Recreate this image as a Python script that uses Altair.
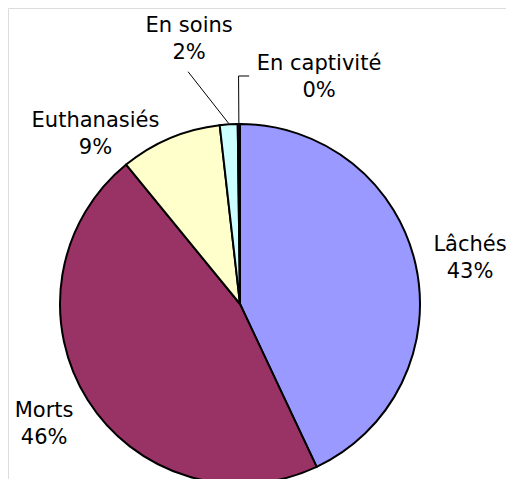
import altair as alt
import pandas as pd

# ---- data ----
LABELS = ["Lâchés", "Morts", "Euthanasiés", "En soins", "En captivité"]
VALUES = [43.0, 46.1, 9.1, 1.6, 0.2]
COLORS = ["#9999FF", "#993366", "#FFFFCC", "#CCFFFF", "#660066"]

# ---- label layout (polar offsets relative to each slice's middle angle) ----
LABEL_R = [234.6, 230.0, 222.7, 268.9, 239.9]
LABEL_DTHETA = [1.3, 0.6, -17.6, -7.3, 19.6]
# leader lines, segment 1 and segment 2: start radius, end radius, end angle offset
L1_R1 = [None, None, None, 181.0, 181.0]
L1_R2 = [None, None, None, 238.0, 228.0]
L1_DT = [None, None, None, -9.0, 0.0]
L2_R1 = [None, None, None, None, 228.0]
L2_R2 = [None, None, None, None, 228.2]
L2_DT = [None, None, None, None, 2.66]

CX, CY, R = 232, 296, 180
FONT = "DejaVu Sans"

df = pd.DataFrame({
    "label": LABELS, "value": VALUES, "idx": list(range(len(LABELS))),
    "lab_r": LABEL_R, "lab_dt": LABEL_DTHETA,
    "l1r1": L1_R1, "l1r2": L1_R2, "l1dt": L1_DT,
    "l2r1": L2_R1, "l2r2": L2_R2, "l2dt": L2_DT,
})

base = alt.Chart(df)

arcs = base.mark_arc(radius=R, stroke="black", strokeWidth=2).encode(
    theta=alt.Theta("value:Q", stack=True),
    color=alt.Color("label:N", scale=alt.Scale(domain=LABELS, range=COLORS), legend=None),
    order=alt.Order("idx:Q"),
    x=alt.value(CX),
    y=alt.value(CY),
)

polar = base.transform_window(
    cum="sum(value)", sort=[alt.SortField("idx")], frame=[None, 0]
).transform_joinaggregate(
    total="sum(value)"
).transform_calculate(
    mid="(datum.cum - datum.value/2) / datum.total * 2 * PI",
    pct="round(datum.value / datum.total * 100) + '%'",
)

texts = polar.transform_calculate(
    a="datum.mid + datum.lab_dt * PI / 180",
).transform_calculate(
    tx=f"{CX} + datum.lab_r * sin(datum.a)",
    ty=f"{CY} - datum.lab_r * cos(datum.a)",
    txt="[datum.label, datum.pct]",
).mark_text(
    font=FONT, fontSize=21, lineHeight=27, align="center", baseline="middle",
    color="black", dy=-13.5
).encode(
    x=alt.X("tx:Q", scale=None, axis=None),
    y=alt.Y("ty:Q", scale=None, axis=None),
    text="txt:N",
)

seg1 = polar.transform_filter("isValid(datum.l1r1)").transform_calculate(
    a2="datum.mid + datum.l1dt * PI / 180",
).transform_calculate(
    x1=f"{CX} + datum.l1r1 * sin(datum.mid)",
    y1=f"{CY} - datum.l1r1 * cos(datum.mid)",
    x2=f"{CX} + datum.l1r2 * sin(datum.a2)",
    y2=f"{CY} - datum.l1r2 * cos(datum.a2)",
).mark_rule(color="black", strokeWidth=1).encode(
    x=alt.X("x1:Q", scale=None, axis=None),
    y=alt.Y("y1:Q", scale=None, axis=None),
    x2="x2:Q",
    y2="y2:Q",
)

seg2 = polar.transform_filter("isValid(datum.l2r1)").transform_calculate(
    a2="datum.mid + datum.l2dt * PI / 180",
).transform_calculate(
    x1=f"{CX} + datum.l2r1 * sin(datum.mid)",
    y1=f"{CY} - datum.l2r1 * cos(datum.mid)",
    x2=f"{CX} + datum.l2r2 * sin(datum.a2)",
    y2=f"{CY} - datum.l2r2 * cos(datum.a2)",
).mark_rule(color="black", strokeWidth=1).encode(
    x=alt.X("x1:Q", scale=None, axis=None),
    y=alt.Y("y1:Q", scale=None, axis=None),
    x2="x2:Q",
    y2="y2:Q",
)

chart = alt.layer(arcs, seg1, seg2, texts).properties(
    width=498, height=471, padding=0, autosize=alt.AutoSizeParams(type="none")
).configure_view(stroke=None).configure(background="white")

chart.save("out.html", embed_options={"renderer": "svg", "actions": False})
